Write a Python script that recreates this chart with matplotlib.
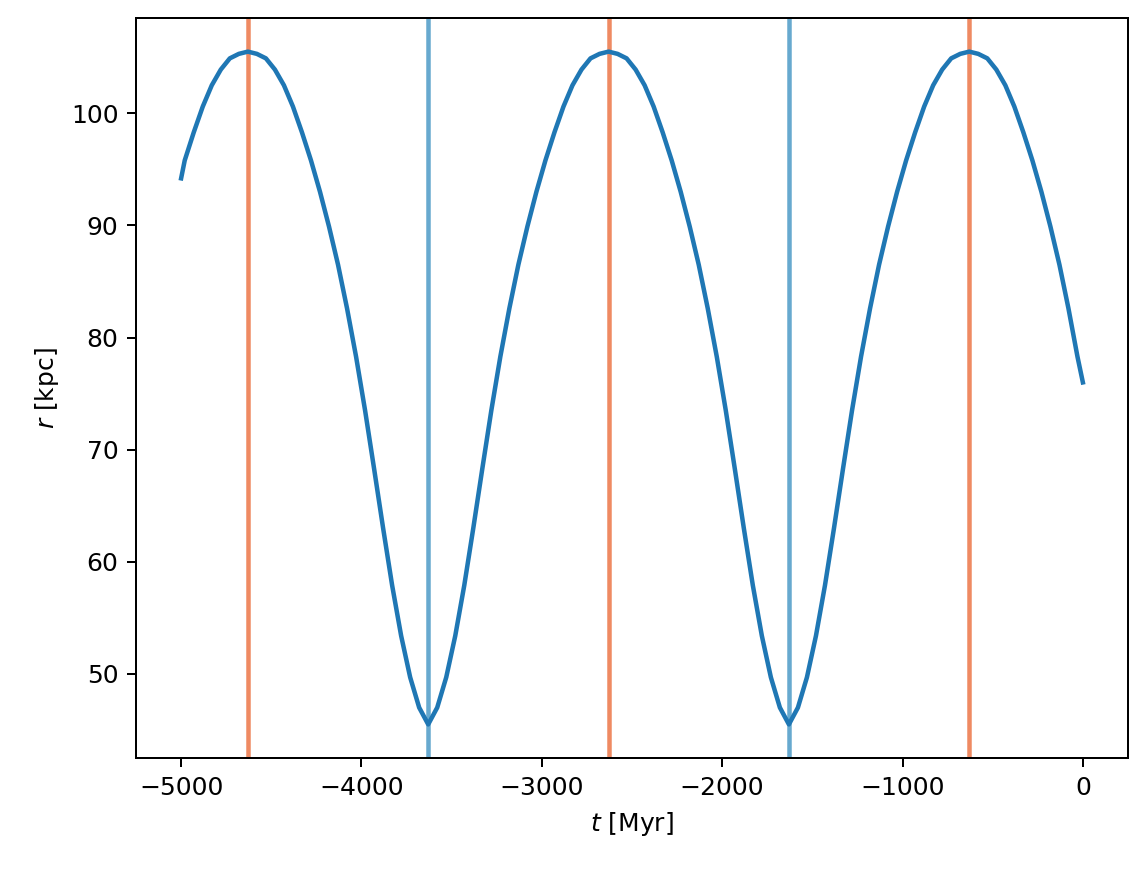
import matplotlib
matplotlib.use('Agg')
import matplotlib.pyplot as plt
import numpy as np

# orbit radius vs time
t = np.concatenate([[-5000], np.arange(-4980, 0, 50), [0]])
r = [94.2,
     95.8, 98.3, 100.6, 102.5, 103.9, 104.9, 105.3, 105.5,
     105.3, 104.9, 103.9, 102.5, 100.6, 98.3, 95.8, 93.0, 89.9, 86.5,
     82.6, 78.3, 73.5, 68.3, 63.0, 57.9, 53.4, 49.7, 47.0, 45.5,
     47.0, 49.7, 53.4, 57.9, 63.0, 68.3, 73.5, 78.3, 82.6, 86.5,
     89.9, 93.0, 95.8, 98.3, 100.6, 102.5, 103.9, 104.9, 105.3, 105.5,
     105.3, 104.9, 103.9, 102.5, 100.6, 98.3, 95.8, 93.0, 89.9, 86.5,
     82.6, 78.3, 73.5, 68.3, 63.0, 57.9, 53.4, 49.7, 47.0, 45.5,
     47.0, 49.7, 53.4, 57.9, 63.0, 68.3, 73.5, 78.3, 82.6, 86.5,
     89.9, 93.0, 95.8, 98.3, 100.6, 102.5, 103.9, 104.9, 105.3, 105.5,
     105.3, 104.9, 103.9, 102.5, 100.6, 98.3, 95.8, 93.0, 89.9, 86.5,
     82.6, 78.3,
     76.0]
apocenters = [-4630, -2630, -630]
pericenters = [-3630, -1630]

fig = plt.figure(figsize=(1147/180, 869/180), dpi=180)
ax = fig.add_subplot(111)
fig.subplots_adjust(left=0.1186, right=0.9834, top=0.9793, bottom=0.1277)

for ta in apocenters:
    ax.axvline(ta, color='#ef8a62', lw=1.8, zorder=1)
for tp in pericenters:
    ax.axvline(tp, color='#67a9cf', lw=1.8, zorder=1)
ax.plot(t, r, color='#1f77b4', lw=1.8, zorder=2)

ax.set_xlabel('$t$ [Myr]')
ax.set_ylabel('$r$ [kpc]')
fig.savefig('out.png', dpi=180)
